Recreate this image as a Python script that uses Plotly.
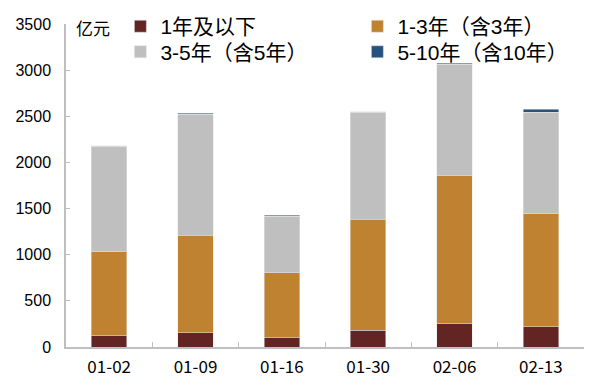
import plotly.graph_objects as go

categories = ["01-02", "01-09", "01-16", "01-30", "02-06", "02-13"]
s_le1 = [122, 155, 101, 184, 257, 220]
s_1_3 = [910, 1058, 704, 1203, 1599, 1224]
s_3_5 = [1142, 1308, 614, 1156, 1210, 1099]
s_5_10 = [8, 14, 6, 8, 11, 32]

names = ["1年及以下", "1-3年（含3年）", "3-5年（含5年）", "5-10年（含10年）"]
colors = ["#632523", "#BF8230", "#BFBFBF", "#27527D"]
legend_rows = ["legend", "legend", "legend2", "legend2"]
series = [s_le1, s_1_3, s_3_5, s_5_10]

fig = go.Figure()
for name, col, vals, lg in zip(names, colors, series, legend_rows):
    fig.add_trace(go.Bar(
        x=categories, y=vals, name=name, legend=lg,
        marker=dict(color=col, line=dict(color="#E6E6E6", width=0.5)),
    ))

font_main = "Liberation Sans, Arial, Noto Sans CJK SC, sans-serif"
legend_common = dict(
    orientation="h", traceorder="normal",
    x=0.105, xanchor="left", yanchor="middle",
    entrywidth=192, entrywidthmode="pixels",
    font=dict(family=font_main, size=21, color="black"),
    bgcolor="rgba(0,0,0,0)", itemclick=False, tracegroupgap=0,
)

# the page body has an 8px default margin; margins compensate so the
# plot area lands at x 66..584, y 24..347 in the window
fig.update_layout(
    width=600, height=389,
    barmode="stack", bargap=0.59,
    plot_bgcolor="white", paper_bgcolor="white",
    margin=dict(l=58, r=24, t=16, b=50, autoexpand=False),
    showlegend=True,
    legend=dict(legend_common, y=0.992),
    legend2=dict(legend_common, y=0.913),
    xaxis=dict(
        type="category", showline=True, linecolor="#BFBFBF", linewidth=1.5,
        ticks="inside", tickson="boundaries", ticklen=5, tickcolor="#BFBFBF",
        tickfont=dict(family="Noto Sans CJK SC, sans-serif", size=17, color="black"),
        showgrid=False, zeroline=False, ticklabelstandoff=4,
    ),
    yaxis=dict(
        range=[0, 3500], tickvals=[0, 500, 1000, 1500, 2000, 2500, 3000, 3500],
        showline=True, linecolor="#BFBFBF", linewidth=1.5,
        ticks="inside", ticklen=4, tickcolor="#BFBFBF",
        tickfont=dict(family=font_main, size=16, color="black"),
        showgrid=False, zeroline=False, ticklabelstandoff=10,
    ),
    annotations=[dict(
        text="亿元", xref="paper", yref="paper", x=0.015, y=0.99,
        xanchor="left", yanchor="middle", showarrow=False,
        font=dict(family="Noto Sans CJK SC, sans-serif", size=17, color="black"),
    )],
)

fig.write_html("out.html")
